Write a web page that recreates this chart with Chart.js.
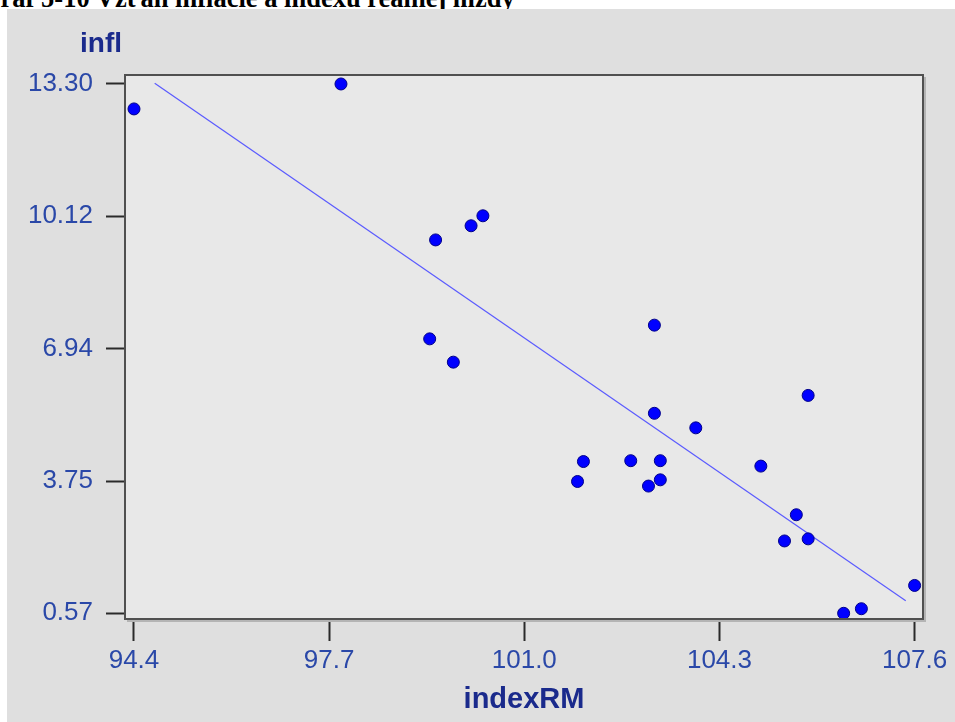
<!DOCTYPE html>
<html>
<head>
<meta charset="utf-8">
<script src="https://cdn.jsdelivr.net/npm/chart.js@4.4.1/dist/chart.umd.min.js"></script>
<style>
  html, body { margin: 0; padding: 0; background: #ffffff; width: 955px; height: 722px; overflow: hidden; position: relative; }
  #title { position: absolute; left: -20px; top: -15px; font-family: "Liberation Serif", "Times New Roman", serif; font-weight: bold; font-size: 26.5px; line-height: 27px; color: #000; white-space: nowrap; }
  #panel { position: absolute; left: 7px; top: 9px; width: 948px; height: 713px; background: #dfdfdf; }
  canvas { display: block; }
</style>
</head>
<body>
<div id="title">Graf 5-10 Vzťah inflácie a indexu reálnej mzdy</div>
<div id="panel"><canvas id="c" width="948" height="713"></canvas></div>
<script>
// Data
const indexRM = [94.4, 97.9, 99.5, 100.1, 100.3, 99.4, 99.8, 103.2, 103.2, 103.9, 105.8, 102.0, 101.9, 102.8, 103.3, 103.1, 103.3, 105.0, 105.6, 105.4, 105.8, 106.4, 106.7, 107.6];
const infl    = [12.70, 13.30, 9.55, 9.89, 10.13, 7.17, 6.61, 7.50, 5.38, 5.03, 5.81, 4.22, 3.74, 4.24, 4.24, 3.63, 3.78, 4.11, 2.94, 2.31, 2.36, 0.57, 0.68, 1.24];
const fitX = [94.75, 107.45];
const fitY = [13.32, 0.87];
const xTicks = [94.4, 97.7, 101.0, 104.3, 107.6];
const xTickLabels = ['94.4', '97.7', '101.0', '104.3', '107.6'];
const yTicks = [0.57, 3.75, 6.94, 10.12, 13.30];
const yTickLabels = ['0.57', '3.75', '6.94', '10.12', '13.30'];

const tickColor = '#2a48a8';
const titleColor = '#1a2a8c';

const areaPlugin = {
  id: 'areaPlugin',
  beforeDatasetsDraw(chart) {
    const {ctx, chartArea: a} = chart;
    ctx.save();
    ctx.fillStyle = '#e8e8e8';
    ctx.fillRect(a.left, a.top, a.right - a.left, a.bottom - a.top);
    ctx.restore();
  },
  afterDatasetsDraw(chart) {
    const {ctx, chartArea: a} = chart;
    ctx.save();
    // shadow
    ctx.strokeStyle = '#b4b4b4';
    ctx.lineWidth = 2;
    ctx.beginPath();
    ctx.moveTo(a.right + 2, a.top + 2);
    ctx.lineTo(a.right + 2, a.bottom + 2);
    ctx.lineTo(a.left + 2, a.bottom + 2);
    ctx.stroke();
    // border
    ctx.strokeStyle = '#505050';
    ctx.lineWidth = 2;
    ctx.strokeRect(a.left, a.top, a.right - a.left, a.bottom - a.top);
    // y axis title (horizontal, above axis)
    ctx.fillStyle = titleColor;
    ctx.font = 'bold 28px "Liberation Sans", Arial, sans-serif';
    ctx.textBaseline = 'alphabetic';
    ctx.textAlign = 'left';
    ctx.fillText('infl', 73, 43);
    ctx.restore();
  }
};

new Chart(document.getElementById('c'), {
  type: 'scatter',
  data: {
    datasets: [
      {
        type: 'scatter',
        data: indexRM.map((x, i) => ({x: x, y: infl[i]})),
        backgroundColor: '#0000ff',
        borderColor: '#00008a',
        borderWidth: 1,
        pointRadius: 6,
        pointHoverRadius: 6,
        order: 1,
        clip: 8
      },
      {
        type: 'line',
        data: fitX.map((x, i) => ({x: x, y: fitY[i]})),
        borderColor: '#5a5aff',
        borderWidth: 1.2,
        pointRadius: 0,
        fill: false,
        order: 2
      }
    ]
  },
  options: {
    responsive: false,
    devicePixelRatio: 1,
    animation: false,
    events: [],
    layout: { padding: { left: 0, top: 66, right: 32, bottom: 0 } },
    plugins: { legend: { display: false }, tooltip: { enabled: false }, title: { display: false } },
    scales: {
      x: {
        type: 'linear',
        min: 94.248,
        max: 107.742,
        afterBuildTicks(scale) { scale.ticks = xTicks.map(v => ({value: v})); },
        afterFit(scale) { scale.height = 103; },
        ticks: {
          autoSkip: false,
          maxRotation: 0,
          padding: 4,
          color: tickColor,
          font: { family: '"Liberation Sans", Arial, sans-serif', size: 26 },
          callback: (v, i) => xTickLabels[i]
        },
        grid: { drawOnChartArea: false, drawTicks: true, tickLength: 22, tickWidth: 2, tickColor: '#2a2a2a', color: '#2a2a2a' },
        border: { display: false },
        title: {
          display: true,
          text: 'indexRM',
          color: titleColor,
          font: { family: '"Liberation Sans", Arial, sans-serif', size: 29, weight: 'bold' },
          padding: { top: 0, bottom: 5 }
        }
      },
      y: {
        type: 'linear',
        min: 0.433,
        max: 13.516,
        afterBuildTicks(scale) { scale.ticks = yTicks.map(v => ({value: v})); },
        afterFit(scale) { scale.width = 118; },
        ticks: {
          autoSkip: false,
          padding: 13,
          color: tickColor,
          font: { family: '"Liberation Sans", Arial, sans-serif', size: 26 },
          callback: (v, i) => yTickLabels[i]
        },
        grid: { drawOnChartArea: false, drawTicks: true, tickLength: 19, tickWidth: 2, tickColor: '#2a2a2a', color: '#2a2a2a' },
        border: { display: false }
      }
    }
  },
  plugins: [areaPlugin]
});
</script>
</body>
</html>
